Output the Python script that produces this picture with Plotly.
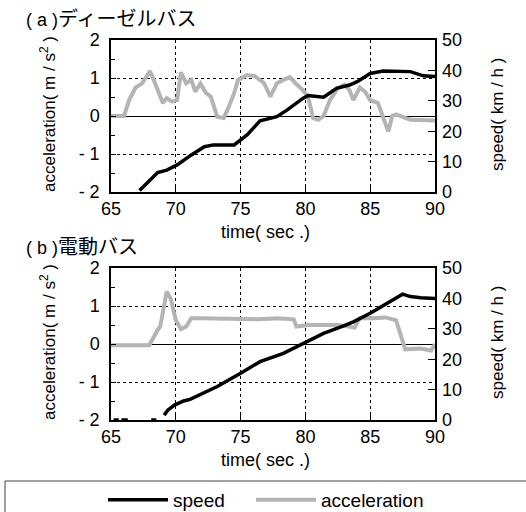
import plotly.graph_objects as go

# ---- data: (a) diesel bus ----
t_acc_a = [65.0, 66.0, 66.4, 66.9, 67.4, 68.0, 68.3, 68.6, 69.0, 69.3, 69.7, 70.1, 70.4, 70.8, 71.2,
           71.5, 71.9, 72.3, 72.7, 73.2, 73.7, 74.1, 74.5, 74.8, 75.5, 76.1, 76.8, 77.3, 77.8, 78.3,
           78.8, 79.3, 79.8, 80.2, 80.6, 81.0, 81.4, 81.9, 82.5, 83.0, 83.4, 83.7, 84.2, 84.6, 85.0,
           85.6, 86.0, 86.4, 86.7, 87.0, 88.1, 89.1, 90.0]
acc_a = [0.0, 0.0, 0.42, 0.75, 0.86, 1.18, 0.95, 0.68, 0.34, 0.47, 0.38, 0.42, 1.15, 0.86, 0.95,
         0.64, 0.86, 0.62, 0.51, -0.02, -0.05, 0.25, 0.60, 0.95, 1.08, 1.05, 0.87, 0.51, 0.86, 0.95,
         1.02, 0.84, 0.68, 0.51, -0.06, -0.1, 0.0, 0.42, 0.73, 0.82, 0.68, 0.42, 0.75, 0.64, 0.42,
         0.34, -0.05, -0.41, 0.0, 0.04, -0.1, -0.12, -0.12]
t_spd_a = [67.2, 67.6, 68.6, 69.3, 70.1, 71.2, 72.2, 72.9, 74.5, 75.5, 76.5, 77.8, 78.6, 79.8,
           80.2, 81.4, 82.4, 83.4, 84.0, 85.0, 86.0, 88.1, 89.1, 90.0]
spd_a = [0.5, 2.3, 6.4, 7.2, 8.9, 12.2, 14.9, 15.5, 15.5, 18.8, 23.4, 24.8, 27.0, 30.8,
         31.7, 31.2, 34.1, 35.2, 36.3, 39.0, 39.8, 39.6, 38.2, 38.0]

# ---- data: (b) electric bus ----
t_acc_b = [65.0, 67.95, 68.6, 68.8, 69.3, 69.6, 70.0, 70.4, 70.8, 71.2, 71.9, 76.5, 77.8, 79.1,
           79.3, 80.3, 81.9, 82.6, 83.8, 84.2, 85.2, 86.2, 87.0, 87.4, 87.7, 88.9, 89.7, 90.0]
acc_b = [-0.03, -0.03, 0.37, 0.46, 1.38, 1.2, 0.63, 0.39, 0.46, 0.68, 0.68, 0.65, 0.68, 0.65,
         0.46, 0.5, 0.5, 0.5, 0.43, 0.68, 0.68, 0.7, 0.62, 0.19, -0.14, -0.12, -0.17, 0.0]
t_spd_b = [65.2, 65.6, None, 65.8, 66.3, None, 68.1, 68.5, None,
           69.1, 69.4, 69.9, 70.6, 71.1, 73.2, 75.0, 76.5, 78.3, 79.8, 81.4, 82.9, 83.7, 85.0,
           86.5, 87.5, 88.1, 88.9, 90.0]
spd_b = [0.0, 0.0, None, 0.0, 0.0, None, 0.0, 0.0, None,
         1.6, 3.3, 4.9, 6.25, 6.8, 11.0, 15.4, 19.2, 21.9, 25.2, 28.5, 30.9, 32.3, 35.1,
         38.9, 41.4, 40.6, 40.2, 40.0]

acc_ticks = [-2, -1, 0, 1, 2]
acc_ticktext = ["- 2", "- 1", "0", "1", "2"]
spd_ticks = [0, 10, 20, 30, 40, 50]
time_ticks = [65, 70, 75, 80, 85, 90]

W, H = 526, 512
BLACK = "#000000"
GRAY = "#b4b4b4"
FONT = "Liberation Sans, Arial, Noto Sans CJK JP, sans-serif"
TICK = dict(size=18, color=BLACK, family=FONT)

def px(x):
    return x / W

def py(y):
    return 1 - y / H

fig = go.Figure()

# panel a
fig.add_trace(go.Scatter(x=t_spd_a, y=spd_a, xaxis="x", yaxis="y2", mode="lines",
                         line=dict(color=BLACK, width=3.5), name="speed", showlegend=True,
                         legend="legend"))
fig.add_trace(go.Scatter(x=t_acc_a, y=acc_a, xaxis="x", yaxis="y", mode="lines",
                         line=dict(color=GRAY, width=4), name="acceleration", showlegend=True,
                         legend="legend2"))
# panel b
fig.add_trace(go.Scatter(x=t_spd_b, y=spd_b, xaxis="x2", yaxis="y4", mode="lines",
                         line=dict(color=BLACK, width=3.5), name="speed", showlegend=False,
                         connectgaps=False))
fig.add_trace(go.Scatter(x=t_acc_b, y=acc_b, xaxis="x2", yaxis="y3", mode="lines",
                         line=dict(color=GRAY, width=4), name="acceleration", showlegend=False))

xdom = [px(111), px(435)]
top_dom = [py(192), py(40)]
bot_dom = [py(420), py(268)]

def xax(anchor):
    return dict(domain=xdom, range=[65, 90], anchor=anchor, tickvals=time_ticks,
                automargin=False,
                showgrid=True, gridcolor=BLACK, griddash="dot", gridwidth=1,
                showline=True, linecolor=BLACK, linewidth=1.5, mirror=True,
                ticks="inside", ticklen=5, tickcolor=BLACK, zeroline=False,
                ticklabelstandoff=0, tickfont=TICK)

def yacc(anchor, dom):
    return dict(domain=dom, range=[-2, 2], anchor=anchor, tickvals=acc_ticks,
                automargin=False,
                ticktext=acc_ticktext, showgrid=True, gridcolor=BLACK, griddash="dot",
                gridwidth=1, zeroline=True, zerolinecolor=BLACK, zerolinewidth=1,
                showline=True, linecolor=BLACK, linewidth=1.5, mirror=True,
                ticks="inside", ticklen=5, tickcolor=BLACK, ticklabelstandoff=6,
                minor=dict(dtick=0.5, ticks="inside", ticklen=4, tickcolor=BLACK, showgrid=False),
                tickfont=TICK)

def yspd(anchor, overlay):
    return dict(range=[0, 50], anchor=anchor, overlaying=overlay, side="right",
                automargin=False,
                tickvals=spd_ticks, showgrid=False, zeroline=False, showline=False,
                ticks="inside", ticklen=7, tickcolor=BLACK, ticklabelstandoff=6,
                tickfont=TICK)

annotations = []

def add_text(text, x, y, size=17, angle=0, xanchor="center", yanchor="middle"):
    annotations.append(dict(text=text, x=px(x), y=py(y), xref="paper", yref="paper",
                            showarrow=False, textangle=angle, xanchor=xanchor, yanchor=yanchor,
                            font=dict(size=size, color=BLACK, family=FONT)))

add_text("( a )<span style='font-size:20px'>ディーゼルバス</span>", 24, 19, size=18, xanchor="left")
add_text("( b )<span style='font-size:20px'>電動バス</span>", 24, 247, size=18, xanchor="left")
for top, bot in [(40, 192), (268, 420)]:
    mid = (top + bot) / 2
    add_text("acceleration( m / s<sup>2</sup> )", 48, mid - 2, angle=-90)
    add_text("speed( km / h )", 497, mid - 1, angle=-90)
    add_text("time( sec .)", 265, bot + 40, size=18)

legend_common = dict(orientation="h", xanchor="left", y=py(500), yanchor="middle",
                     font=dict(size=19, color=BLACK, family=FONT), bgcolor="rgba(0,0,0,0)",
                     itemwidth=60, tracegroupgap=0)

fig.update_layout(
    template="none",
    width=W, height=H,
    margin=dict(l=0, r=0, t=0, b=0, autoexpand=False),
    paper_bgcolor="white", plot_bgcolor="white",
    font=dict(family=FONT, color=BLACK),
    xaxis=xax("y"),
    yaxis=yacc("x", top_dom),
    yaxis2=yspd("x", "y"),
    xaxis2=xax("y3"),
    yaxis3=yacc("x2", bot_dom),
    yaxis4=yspd("x2", "y3"),
    annotations=annotations,
    showlegend=True,
    legend=dict(x=px(103), **legend_common),
    legend2=dict(x=px(251), **legend_common),
    shapes=[dict(type="rect", xref="paper", yref="paper", x0=px(5), x1=1.05,
                 y0=py(481), y1=-0.05, line=dict(color="#444444", width=1))],
)

fig.write_html("out.html")
